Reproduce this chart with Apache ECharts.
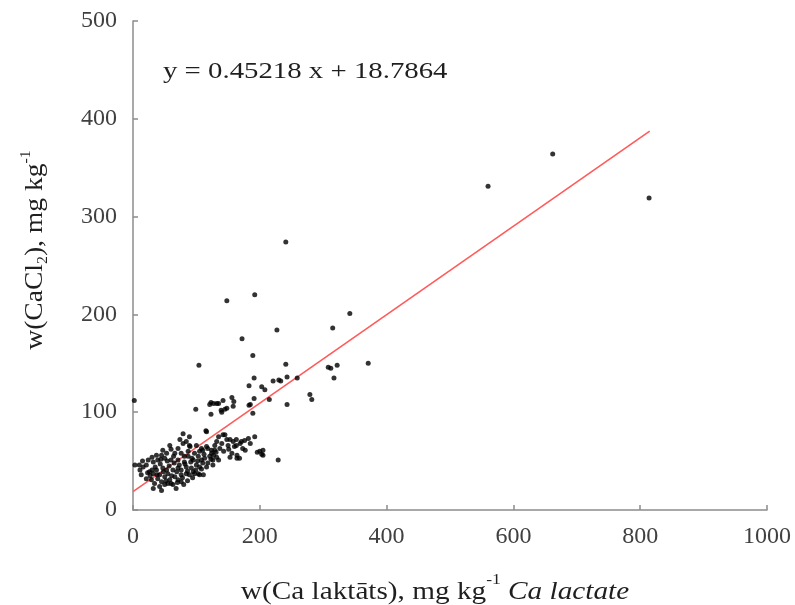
<!DOCTYPE html>
<html>
<head>
<meta charset="utf-8">
<script src="https://cdn.jsdelivr.net/npm/echarts@6/dist/echarts.min.js"></script>
<style>html,body{margin:0;padding:0;background:#fff;}#c{width:795px;height:605px;}</style>
</head>
<body>
<div id="c"></div>
<script>
// Ca lactate (x) values, mg/kg
var caLactate = [
  2,104,241,148,192,342,227,172,315,189,241,371,308,312,322,317,191,243,230,233,221,259,183,203,208,279,282,243,560,662,814,
  215,191,185,189,99,123,127,123,135,142,139,148,156,159,158,183,121,132,145,140,
  115,135,142,148,153,158,163,169,171,192,177,164,153,168,200,205,229,205,203,173,156,164,145,132,79,90,100,108,116,124,129,127,135,93,108,103,111,
  79,89,116,74,89,58,53,45,66,76,81,87,97,105,110,118,124,129,24,32,39,50,60,71,81,95,103,113,121,126,3,11,16,21,26,13,21,32,37,42,47,53,55,63,71,76,84,92,100,105,110,118,126,29,34,39,45,50,58,66,71,76,84,89,97,105,42,50,55,63,68,76,32,45,
  27,35,43,48,57,61,65,69,73,78,82,86,91,94,99,102,108,112,87,64,54,44,38,30,23,52,60,70,80,86,95,116,123,131,137,143,150,140,132,151,160,185,196,176,182,163,71,84,60,47,37,30,15,10
];
// CaCl2 (y) values, mg/kg
var caCl2 = [
  112,148,274,214,220,201,184,175,186,158,149,150,146,145,148,135,135,136,133,132,132,135,127,126,123,118,113,108,331,364,319,
  113,114,108,99,103,110,109,98,109,112,102,104,115,111,106,107,108,109,103,100,
  81,75,77,72,72,70,72,68,70,75,61,56,54,53,60,56,51,61,57,63,58,53,77,54,68,65,66,63,65,61,66,56,51,53,51,37,36,
  78,75,80,72,66,66,58,56,58,58,55,60,58,60,61,63,58,61,51,49,51,53,51,51,49,51,55,53,55,51,46,41,44,46,39,36,32,37,41,36,43,41,37,41,43,41,44,43,46,44,48,48,46,31,27,32,29,34,31,34,31,36,37,36,37,36,24,26,27,26,22,29,22,20,
  35,44,47,39,45,35,48,39,46,33,47,40,49,33,41,50,42,57,55,55,50,52,36,41,38,30,27,28,26,30,39,44,52,59,63,60,66,68,70,62,65,68,59,71,73,66,63,70,62,61,56,54,50,46
];
// regression: y = slope * x + intercept
var slope = 0.45218;
var intercept = 18.7864;
var fitRange = [0, 815];

var xTicks = [0, 200, 400, 600, 800, 1000];
var yTicks = [0, 100, 200, 300, 400, 500];

var points = caLactate.map(function (x, i) { return [x, caCl2[i]]; });
var fitLine = fitRange.map(function (x) { return [x, slope * x + intercept]; });

var chart = echarts.init(document.getElementById('c'), null, {renderer: 'canvas'});
var serif = '"Liberation Serif", "Times New Roman", serif';
var ink = '#1f1f1f';
chart.setOption({
  animation: false,
  backgroundColor: '#ffffff',
  grid: {left: 133, right: 28, top: 21, bottom: 95, containLabel: false, outerBoundsMode: 'none'},
  xAxis: {
    type: 'value', min: xTicks[0], max: xTicks[xTicks.length - 1], interval: 200,
    splitLine: {show: false},
    axisLine: {show: true, lineStyle: {color: '#8c8c8c', width: 1.5}},
    axisTick: {show: true, inside: true, length: 5, lineStyle: {color: '#8c8c8c', width: 1.5}},
    axisLabel: {color: '#404040', fontFamily: serif, fontSize: 24, margin: 15,
      formatter: function (v) { return String(v); }}
  },
  yAxis: {
    type: 'value', min: yTicks[0], max: yTicks[yTicks.length - 1], interval: 100,
    splitLine: {show: false},
    axisLine: {show: true, lineStyle: {color: '#8c8c8c', width: 1.5}},
    axisTick: {show: true, inside: true, length: 5, lineStyle: {color: '#8c8c8c', width: 1.5}},
    axisLabel: {color: '#404040', fontFamily: serif, fontSize: 24, margin: 16,
      formatter: function (v) { return String(v); }}
  },
  graphic: [
    {
      type: 'text', x: 163, y: 72, scaleX: 1.2,
      style: {text: 'y = 0.45218 x + 18.7864', fontFamily: serif, fontSize: 24, fill: ink,
        align: 'left', verticalAlign: 'middle'}
    },
    {
      type: 'text', x: 35, y: 250, rotation: Math.PI / 2, scaleX: 1.06,
      style: {
        text: '{n|w(CaCl}{sub|2}{n|), mg kg}{sup|-1}',
        align: 'center', verticalAlign: 'middle',
        rich: {
          n: {fontFamily: serif, fontSize: 26, fill: ink, lineHeight: 32, verticalAlign: 'middle'},
          sub: {fontFamily: serif, fontSize: 15, fill: ink, lineHeight: 32, verticalAlign: 'bottom'},
          sup: {fontFamily: serif, fontSize: 15, fill: ink, lineHeight: 32, verticalAlign: 'top'}
        }
      }
    },
    {
      type: 'text', x: 435, y: 589, scaleX: 1.17,
      style: {
        text: '{n|w(Ca laktāts), mg kg}{sup|-1}{n| }{it|Ca lactate}',
        align: 'center', verticalAlign: 'middle',
        rich: {
          n: {fontFamily: serif, fontSize: 25, fill: ink, lineHeight: 32, verticalAlign: 'bottom'},
          sup: {fontFamily: serif, fontSize: 15, fill: ink, lineHeight: 32, verticalAlign: 'top'},
          it: {fontFamily: serif, fontSize: 25, fontStyle: 'italic', fill: ink, lineHeight: 32, verticalAlign: 'bottom'}
        }
      }
    }
  ],
  series: [
    {
      type: 'scatter', data: points, symbol: 'circle', symbolSize: 5,
      itemStyle: {color: '#000000'}, z: 3
    },
    {
      type: 'line', data: fitLine, symbol: 'none',
      lineStyle: {color: '#ff5a5a', width: 1.6}, z: 2
    }
  ]
});
</script>
</body>
</html>
